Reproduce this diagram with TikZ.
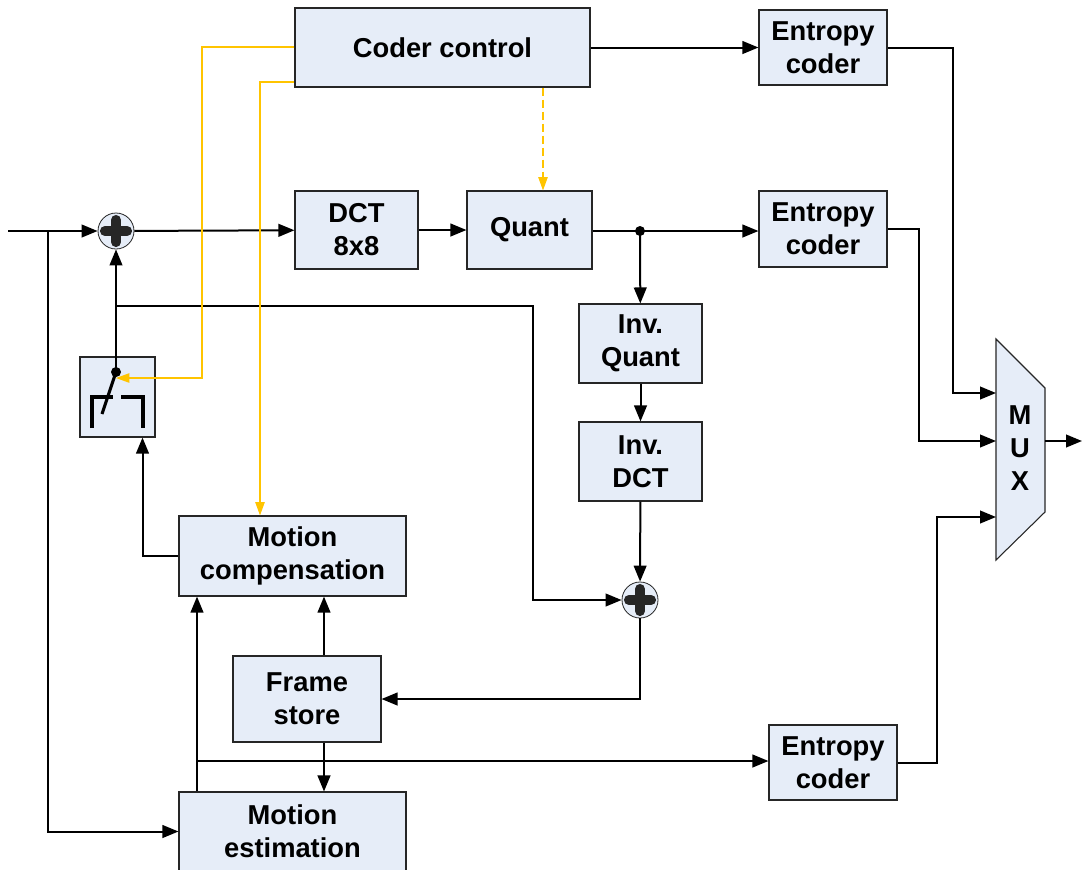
\documentclass[tikz,border=0pt]{standalone}
\usepackage{fontspec}
\setmainfont{Liberation Sans}
\usetikzlibrary{arrows.meta}
\definecolor{boxfill}{RGB}{230,237,248}
\definecolor{ctrl}{RGB}{255,196,0}
\begin{document}
\begin{tikzpicture}[x=0.75pt,y=-0.75pt,
  blk/.style={draw=black!85, line width=0.8pt, fill=boxfill, inner sep=0pt, align=center,
    font=\fontsize{20.5}{24.75}\selectfont\bfseries},
  sum/.style={circle, draw=black!85, line width=0.6pt, fill=boxfill, minimum size=27pt, inner sep=0pt,
    path picture={
      \draw[line width=7.5pt, line cap=round] ([xshift=-8.3pt]path picture bounding box.center) -- ([xshift=8.3pt]path picture bounding box.center);
      \draw[line width=7.5pt, line cap=round] ([yshift=-8.3pt]path picture bounding box.center) -- ([yshift=8.3pt]path picture bounding box.center);}},
  wire/.style={line width=1.5pt},
  arr/.style={wire, -{Triangle[length=12pt,width=9.5pt]}},
  ctl/.style={draw=ctrl, line width=1pt},
  carr/.style={ctl, -{Triangle[length=10pt,width=7pt]}},
  dotn/.style={circle, fill=black, inner sep=0pt, minimum size=7.5pt},
  swline/.style={line width=2.3pt}
]
\useasboundingbox[fill=white] (0,0) rectangle (1082,869);

% blocks
\node[blk, minimum width=221.25pt, minimum height=59.25pt] (cc) at (442.5,47.5) {Coder control};
\node[blk, minimum width=96pt, minimum height=56.25pt] (ec1) at (823,47.5) {Entropy\\coder};
\node[blk, minimum width=92.25pt, minimum height=58.5pt] (dct) at (356.5,230) {DCT\\8x8};
\node[blk, minimum width=93.75pt, minimum height=58.5pt] (quant) at (529.5,230) {Quant};
\node[blk, minimum width=96pt, minimum height=57pt] (ec2) at (823,229) {Entropy\\coder};
\node[blk, minimum width=92.25pt, minimum height=59.25pt] (iq) at (640.5,343.5) {Inv.\\Quant};
\node[blk, minimum width=92.25pt, minimum height=59.25pt] (idct) at (640.5,461.5) {Inv.\\DCT};
\node[blk, minimum width=56.25pt, minimum height=60pt] (sw) at (117.5,397) {};
\node[blk, minimum width=170.25pt, minimum height=60pt] (mc) at (292.5,556) {Motion\\compensation};
\node[blk, minimum width=111pt, minimum height=64.5pt] (fs) at (307,699) {Frame\\store};
\node[blk, minimum width=170.25pt, minimum height=59.25pt] (me) at (292.5,831.5) {Motion\\estimation};
\node[blk, minimum width=96pt, minimum height=56.25pt] (ec3) at (833,762.5) {Entropy\\coder};

% MUX
\draw[draw=black!85, line width=0.8pt, fill=boxfill] (996,339) -- (1045,388) -- (1045,512) -- (996,560) -- cycle;
\node[align=center, inner sep=0pt, font=\fontsize{20.5}{24.75}\selectfont\bfseries] (mux) at (1020,448) {M\\U\\X};
\coordinate (m1) at (996,393);
\coordinate (m2) at (996,441);
\coordinate (m3) at (996,517);
\coordinate (mo) at (1045,441);
\coordinate (out) at (1082,441);

% adders and dots
\node[sum] (s1) at (116,231) {};
\node[sum] (s2) at (640,600) {};
\node[dotn] (qd) at (640,231) {};
\node[dotn] (pv) at (116,372) {};

% switch symbol
\draw[swline] (92,428) -- (92,397) -- (113,397);
\draw[swline] (121,397) -- (143,397) -- (143,428);
\draw[swline] (pv.center) -- (102,414);

% coordinates for free ends / branches
\coordinate (in) at (8,231);
\coordinate (ib) at (48,231);
\coordinate (fb) at (116,306);
\coordinate (fc) at (533,306);
\coordinate (mb) at (197,761);

% black connectors
\draw[arr] (in) -- (s1);
\draw[arr] (ib) |- (me.west);
\draw[arr] (s1) -- (dct);
\draw[arr] (dct) -- (quant);
\draw[wire] (quant.east |- qd) -- (qd.center);
\draw[arr] (qd.center) -- (ec2.west |- qd);
\draw[arr] (qd.center) -- (iq);
\draw[arr] (iq) -- (idct);
\draw[arr] (idct) -- (s2);
\draw[arr] (s2.south) |- (fs.east);
\draw[arr] ([xshift=12.75pt]fs.north) -- ([xshift=12.75pt]fs.north |- mc.south);
\draw[arr] ([xshift=12.75pt]fs.south) -- ([xshift=12.75pt]fs.south |- me.north);
\draw[arr] (me.north -| mb) -- (mc.south -| mb);
\draw[arr] (mb) -- (ec3.west |- mb);
\draw[arr] (mc.west) -| ([xshift=18.75pt]sw.south);
\draw[arr] (pv.center) -- (s1);
\draw[arr] (fb) -- (fc) |- (s2.west);
\draw[arr] (cc.east) -- (ec1.west);
\draw[arr] (ec1.east) -- (953,47.5) |- (m1);
\draw[arr] (ec2.east) -- (919,229) |- (m2);
\draw[arr] (ec3.east) -- (937,762.5) |- (m3);
\draw[arr] (mo) -- (out);

% control (yellow) connectors
\draw[carr] (cc.west |- 0,47) -| (202,378) -- (116,378);
\draw[carr] (cc.west |- 0,82) -| (mc.north -| 260,0);
\draw[carr, dash pattern=on 6pt off 3pt] (cc.south -| 543,0) -- (quant.north -| 543,0);
\end{tikzpicture}
\end{document}
